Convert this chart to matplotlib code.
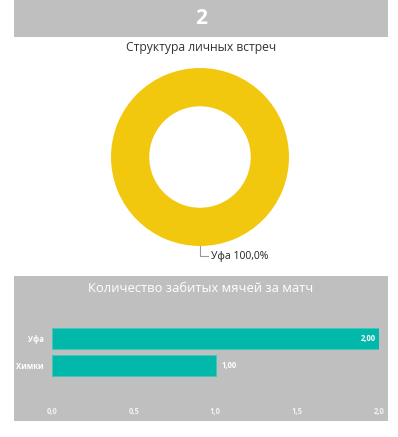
from matplotlib import pyplot as plt
from matplotlib.patches import Rectangle

# data
match_count = "2"
donut_labels = ["Уфа"]
donut_values = [100.0]
teams = ["Уфа", "Химки"]
goals = [2.0, 1.0]
x_ticks = [0.0, 0.5, 1.0, 1.5, 2.0]

W, H = 398, 437
GRAY = "#BFBFBF"
YELLOW = "#F2C80F"
TEAL = "#01B8AA"


def fx(px):
    return px / W


def fy(py):
    return 1 - py / H


def comma(v, digits):
    return f"{v:.{digits}f}".replace(".", ",")


plt.rcParams["font.family"] = ["Open Sans", "DejaVu Sans"]
fig = plt.figure(figsize=(W / 100, H / 100), dpi=100)

# top card
fig.patches.append(Rectangle((fx(14), fy(37)), fx(374), 37 / H, transform=fig.transFigure,
                             facecolor=GRAY, edgecolor="none", zorder=-1))
fig.text(fx(201), fy(19), match_count, color="white", fontsize=15, fontweight="bold",
         ha="center", va="center")

# donut
fig.text(fx(201), fy(48), "Структура личных встреч", color="#333333", fontsize=8.7,
         ha="center", va="center")
r = 89
ax = fig.add_axes([fx(200 - r), fy(157 + r), 2 * r / W, 2 * r / H])
ax.pie(donut_values, colors=[YELLOW], startangle=90, counterclock=False,
       wedgeprops=dict(width=0.43, edgecolor="none"), radius=1)
ax.set_xlim(-1, 1)
ax.set_ylim(-1, 1)
ax.axis("off")
fig.add_artist(plt.Line2D([fx(200), fx(200), fx(208)], [fy(246), fy(256), fy(256)],
                          color="#999999", lw=0.8))
fig.text(fx(211), fy(256), f"{donut_labels[0]} {comma(donut_values[0], 1)}%",
         color="#222222", fontsize=7.5, ha="left", va="center")

# bar card
fig.patches.append(Rectangle((fx(14), fy(421)), fx(374), 145 / H, transform=fig.transFigure,
                             facecolor=GRAY, edgecolor="none", zorder=-1))
fig.text(fx(201), fy(289), "Количество забитых мячей за матч", color="white", fontsize=9.4,
         ha="center", va="center")

top_px, bot_px = 300, 400
bx = fig.add_axes([fx(52), fy(bot_px), 327 / W, (bot_px - top_px) / H])
bx.patch.set_alpha(0)
ys = list(range(len(teams)))
bx.barh(ys, goals, height=21 / 27, color=TEAL, edgecolor="#3FC7BC", linewidth=0.6)
bx.set_xlim(0, 2)
bx.set_ylim((bot_px - 338.5) / 27, (top_px - 338.5) / 27)
bx.set_yticks(ys)
bx.set_yticklabels(teams, color="white", fontsize=5.5, fontweight="bold")
bx.set_xticks(x_ticks)
bx.set_xticklabels([comma(t, 1) for t in x_ticks], color="#F2F2F2", fontsize=5.5, fontweight="bold")
bx.tick_params(axis="both", length=0)
bx.tick_params(axis="y", pad=6)
bx.tick_params(axis="x", pad=5)
for s in bx.spines.values():
    s.set_visible(False)
for y, v in zip(ys, goals):
    if v >= 1.5:
        bx.text(v - 0.02, y, comma(v, 2), color="white", fontsize=5.5, fontweight="bold",
                ha="right", va="center")
    else:
        bx.text(v + 0.04, y, comma(v, 2), color="white", fontsize=5.5, fontweight="bold",
                ha="left", va="center")

fig.savefig("out.png", dpi=100)
